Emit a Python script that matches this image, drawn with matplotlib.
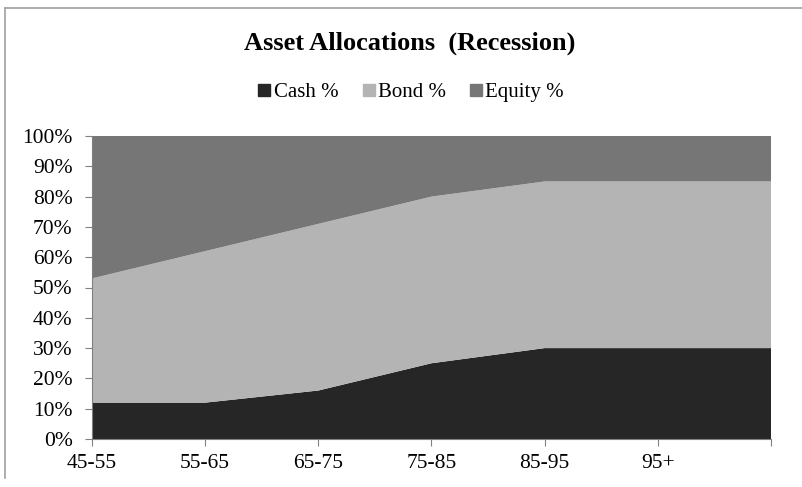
import numpy as np
import matplotlib
matplotlib.use('Agg')
import matplotlib.pyplot as plt
from matplotlib.lines import Line2D

##### data #####
ages = ['45-55', '55-65', '65-75', '75-85', '85-95', '95+', '']
cash = [12, 12, 16, 25, 30, 30, 30]
bond = [41, 50, 55, 55, 55, 55, 55]
equity = [47, 38, 29, 20, 15, 15, 15]

colors = ['#262626', '#b4b4b4', '#767676']
names = ['Cash %', 'Bond %', 'Equity %']

plt.rcParams['font.family'] = ['Liberation Serif', 'DejaVu Serif']

fig = plt.figure(figsize=(8.03, 4.87), dpi=100)
ax = fig.add_axes([92/803, 1-439/487, (771-92)/803, (439-136)/487])

x = np.arange(len(ages))
ax.stackplot(x, cash, bond, equity, colors=colors, linewidth=0)

ax.set_xlim(0, len(ages)-1)
ax.set_ylim(0, 100)
ax.set_xticks(x)
ax.set_xticklabels(ages, fontsize=15.5)
ax.set_yticks(range(0, 101, 10))
ax.set_yticklabels(['%d%%' % v for v in range(0, 101, 10)], fontsize=15.5)
ax.tick_params(direction='out', length=5, color='#808080')
ax.tick_params(axis='y', pad=9)
ax.tick_params(axis='x', pad=6)

for s in ['top', 'right']:
    ax.spines[s].set_visible(False)
for s in ['left', 'bottom']:
    ax.spines[s].set_color('#808080')

fig.text(0.51, 0.912, 'Asset Allocations  (Recession)', ha='center', va='center',
         fontsize=19, fontweight='bold')

handles = [Line2D([], [], marker='s', linestyle='', markersize=8, color=c) for c in colors]
fig.legend(handles, names, loc='center', bbox_to_anchor=(0.51, 0.811), ncol=3,
           frameon=False, fontsize=15, handletextpad=0.0, columnspacing=1.0,
           handlelength=0.9)

# outer chart frame
fig.add_artist(Line2D([5/803, 1], [1-8/487, 1-8/487], color='#a0a0a0', lw=1.2))
fig.add_artist(Line2D([5/803, 5/803], [1-8/487, 1-478/487], color='#a0a0a0', lw=1.2))

fig.savefig('out.png', dpi=100)
